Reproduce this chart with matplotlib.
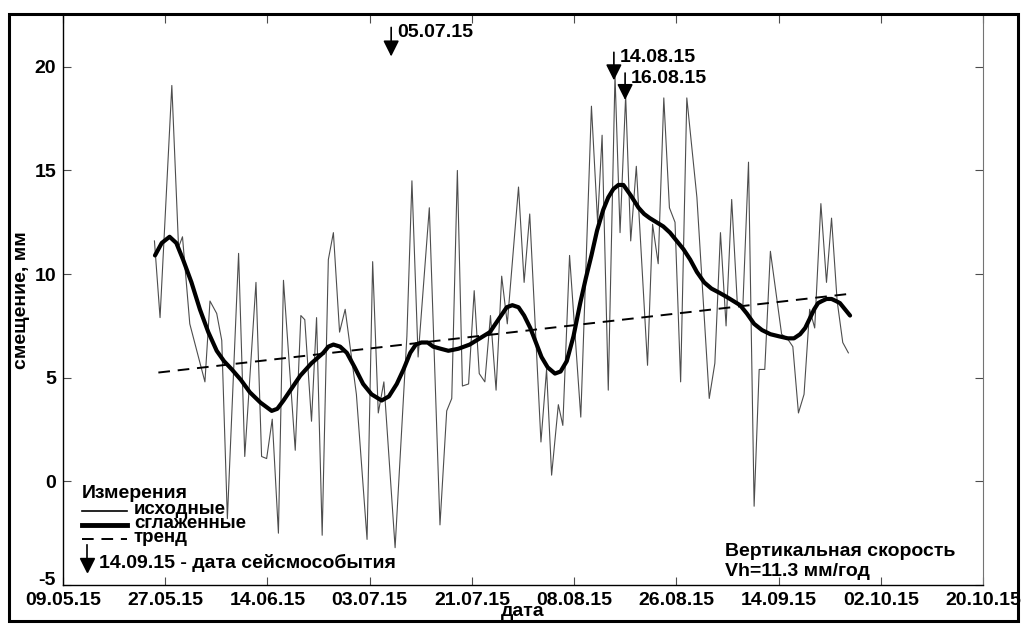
#!/usr/bin/env python3
# -*- coding: utf-8 -*-
"""
Смещение репера: исходные, сглаженные и тренд.
"""

import matplotlib
matplotlib.use('Agg')
import matplotlib.pyplot as plt
import matplotlib.transforms as mtransforms
from matplotlib.lines import Line2D
from matplotlib.patches import Rectangle

plt.rcParams['font.family'] = ['Liberation Sans', 'DejaVu Sans']
plt.rcParams['font.weight'] = 'bold'
plt.rcParams['axes.unicode_minus'] = False

# days since 09.05.15
RAW_DAY = [16.3, 17.3, 19.4, 20.6, 21.3, 22.6, 25.3, 26.2, 27.4, 28.3,
           29.3, 31.3, 32.4, 34.4, 35.4, 36.3, 37.3, 38.4, 39.3, 41.4,
           42.4, 43.1, 44.3, 45.2, 46.2, 47.3, 48.2, 49.3, 50.3, 52.3,
           54.2, 55.2, 56.2, 57.2, 59.2, 61.3, 62.2, 63.3, 65.3, 67.2,
           68.4, 69.3, 70.3, 71.2, 72.3, 73.3, 74.2, 75.2, 76.2, 77.2,
           78.2, 79.2, 81.2, 82.2, 83.2, 85.2, 86.2, 87.1, 88.3, 89.1,
           90.3, 92.3, 94.2, 95.3, 96.1, 97.2, 98.4, 99.3, 100.3, 101.2,
           102.2, 104.2, 105.1, 106.1, 107.1, 108.1, 109.1, 110.1, 111.2, 113.0,
           115.2, 116.2, 117.2, 118.2, 119.2, 120.2, 121.2, 122.2, 123.2, 124.1,
           125.1, 126.1, 128.1, 129.1, 130.1, 131.1, 132.1, 133.1, 134.0, 135.1,
           136.1, 137.0, 138.0, 139.0, 140.0]
RAW_MM = [11.6, 7.9, 19.1, 11.3, 11.8, 7.6, 4.8, 8.7, 8.1, 6.8,
          -1.8, 11.0, 1.2, 9.6, 1.2, 1.1, 3.0, -2.5, 9.7, 1.5,
          8.0, 7.8, 2.9, 7.9, -2.6, 10.7, 12.0, 7.2, 8.3, 4.2,
          -2.8, 10.6, 3.3, 4.8, -3.2, 7.0, 14.5, 6.0, 13.2, -2.1,
          3.4, 4.0, 15.0, 4.6, 4.7, 9.2, 5.2, 4.8, 8.0, 4.4,
          9.9, 7.6, 14.2, 9.6, 12.9, 1.9, 5.4, 0.3, 3.7, 2.7,
          10.9, 3.1, 18.1, 12.5, 16.7, 4.4, 19.6, 12.0, 18.6, 11.6,
          15.2, 5.6, 12.4, 10.5, 18.5, 13.2, 12.5, 4.8, 18.5, 13.7,
          4.0, 5.7, 12.0, 7.5, 13.6, 8.6, 8.5, 15.4, -1.2, 5.4,
          5.4, 11.1, 7.1, 6.9, 6.5, 3.3, 4.2, 8.3, 7.4, 13.4,
          9.6, 12.7, 8.7, 6.7, 6.2]

SMOOTH_DAY = [16.4, 17.6, 19.0, 20.2, 21.4, 22.9, 24.4, 25.9, 27.4, 28.7,
              30.1, 31.7, 33.3, 35.2, 37.2, 38.2, 39.3, 40.8, 42.3, 44.3,
              46.4, 47.3, 48.2, 49.4, 50.6, 52.0, 53.5, 55.0, 56.8, 58.1,
              59.5, 60.7, 61.9, 62.9, 63.9, 65.0, 66.0, 67.3, 68.7, 70.5,
              72.5, 74.3, 76.1, 77.6, 79.1, 80.1, 81.2, 82.2, 83.3, 84.3,
              85.3, 86.4, 87.7, 88.7, 89.8, 91.0, 92.2, 93.2, 94.2, 95.2,
              96.3, 97.2, 98.1, 99.0, 99.9, 101.2, 102.6, 103.6, 104.6, 105.8,
              107.0, 108.2, 109.4, 110.6, 111.8, 113.0, 114.3, 115.6, 117.0, 118.3,
              119.5, 120.7, 121.9, 123.2, 124.6, 126.1, 127.6, 129.2, 130.3, 131.4,
              132.3, 133.2, 133.9, 134.6, 135.3, 136.1, 137.0, 137.8, 138.5, 139.1,
              139.7, 140.3]
SMOOTH_MM = [10.9, 11.5, 11.8, 11.5, 10.7, 9.6, 8.3, 7.2, 6.3, 5.8,
             5.4, 4.9, 4.3, 3.8, 3.4, 3.5, 3.9, 4.5, 5.1, 5.7,
             6.2, 6.5, 6.6, 6.5, 6.2, 5.5, 4.7, 4.2, 3.9, 4.1,
             4.7, 5.4, 6.2, 6.6, 6.7, 6.7, 6.5, 6.4, 6.3, 6.4,
             6.6, 6.9, 7.2, 7.8, 8.4, 8.5, 8.4, 8.0, 7.4, 6.7,
             6.0, 5.5, 5.2, 5.3, 5.8, 7.0, 8.6, 9.8, 10.9, 12.1,
             13.1, 13.7, 14.1, 14.3, 14.3, 13.8, 13.2, 12.9, 12.7, 12.5,
             12.3, 12.0, 11.6, 11.2, 10.7, 10.1, 9.6, 9.3, 9.1, 8.9,
             8.7, 8.5, 8.1, 7.6, 7.3, 7.1, 7.0, 6.9, 6.9, 7.1,
             7.4, 7.9, 8.3, 8.6, 8.7, 8.8, 8.8, 8.7, 8.6, 8.4,
             8.2, 8.0]

TREND_DAY = [17.0, 140.3]
TREND_MM = [5.25, 9.05]

XTICK_LABELS = ['09.05.15', '27.05.15', '14.06.15', '03.07.15', '21.07.15',
                '08.08.15', '26.08.15', '14.09.15', '02.10.15', '20.10.15']
X_SPAN = 164.0
YTICKS = [-5, 0, 5, 10, 15, 20]

# (label, day, arrow top, arrow tip)
EVENTS = [
    ('05.07.15', 58.5, 21.9, 20.5),
    ('14.08.15', 98.2, 20.7, 19.35),
    ('16.08.15', 100.2, 19.7, 18.4),
]

W, H = 1026, 626
FS = 14


def fx(px):
    return px / W


def fy(py):
    return 1 - py / H


def make_plot():
    fig = plt.figure(figsize=(W / 100, H / 100), dpi=100)
    ax = fig.add_axes([fx(63), fy(585), fx(983) - fx(63), fy(15) - fy(585)])

    ax.plot(RAW_DAY, RAW_MM, color='0.3', lw=0.8)
    ax.plot(SMOOTH_DAY, SMOOTH_MM, color='black', lw=3,
            solid_joinstyle='round', solid_capstyle='round')
    ax.plot(TREND_DAY, TREND_MM, color='black', lw=1.4, dashes=(6, 4))

    step = X_SPAN / (len(XTICK_LABELS) - 1)
    ax.set_xticks([i * step for i in range(len(XTICK_LABELS))])
    ax.set_xticklabels(XTICK_LABELS)
    ax.set_xlim(0, X_SPAN)
    ax.set_yticks(YTICKS)
    ax.set_ylim(-5, 22.5)
    ax.tick_params(direction='in', length=6, width=0.8, top=True, right=True,
                   labelsize=FS, pad=5, color='0.3')
    for lab in ax.get_xticklabels() + ax.get_yticklabels():
        lab.set_fontweight('bold')
    # the bottom y label sits a little above its tick, as in the original
    low = ax.get_yticklabels()[0]
    low.set_transform(low.get_transform() +
                      mtransforms.ScaledTranslation(0, 5 / 72, fig.dpi_scale_trans))
    for side in ['left', 'bottom']:
        ax.spines[side].set_color('black')
        ax.spines[side].set_linewidth(1.0)
    ax.spines['right'].set_color('0.45')
    ax.spines['top'].set_visible(False)

    for label, day, top, tip in EVENTS:
        ax.annotate('', xy=(day, tip), xytext=(day, top),
                    arrowprops=dict(arrowstyle='-|>', color='black', lw=1.2,
                                    mutation_scale=24, shrinkA=0, shrinkB=0))
        ax.text(day + 1.0, top - 0.25, label, fontsize=FS, fontweight='bold',
                va='center', ha='left')

    # legend, drawn by hand like the original
    fig.text(fx(82), fy(493), 'Измерения', fontsize=FS, fontweight='bold',
             va='center', ha='left')
    rows = [(511, dict(color='black', lw=1.2), 'исходные'),
            (525, dict(color='black', lw=3.5), 'сглаженные'),
            (539, dict(color='black', lw=1.4, dashes=(6, 4)), 'тренд')]
    for py, style, label in rows:
        fig.add_artist(Line2D([fx(82), fx(127)], [fy(py), fy(py)], **style))
        fig.text(fx(134), fy(py - 1), label, fontsize=13.5, fontweight='bold',
                 va='center', ha='left')
    fig.add_artist(Line2D([fx(87), fx(87)], [fy(545), fy(562)], color='black', lw=1.2))
    fig.add_artist(Line2D([fx(87)], [fy(565)], marker='v', markersize=10,
                          color='black', lw=0))
    fig.text(fx(99), fy(563), '14.09.15 - дата сейсмособытия', fontsize=FS,
             fontweight='bold', va='center', ha='left')

    fig.text(fx(725), fy(552), 'Вертикальная скорость', fontsize=FS,
             fontweight='bold', va='center', ha='left')
    fig.text(fx(725), fy(572), 'Vh=11.3 мм/год', fontsize=FS,
             fontweight='bold', va='center', ha='left')

    fig.text(fx(22), fy(300), 'смещение, мм', fontsize=FS, fontweight='bold',
             rotation=90, va='center', ha='center')
    fig.text(fx(523), fy(612), 'дата', fontsize=FS, fontweight='bold',
             va='center', ha='center')

    fig.add_artist(Rectangle((fx(9), fy(621)), fx(1018) - fx(9), fy(14) - fy(621),
                             transform=fig.transFigure, fill=False,
                             edgecolor='black', lw=2.2))
    fig.savefig('out.png', dpi=100)


if __name__ == '__main__':
    make_plot()
